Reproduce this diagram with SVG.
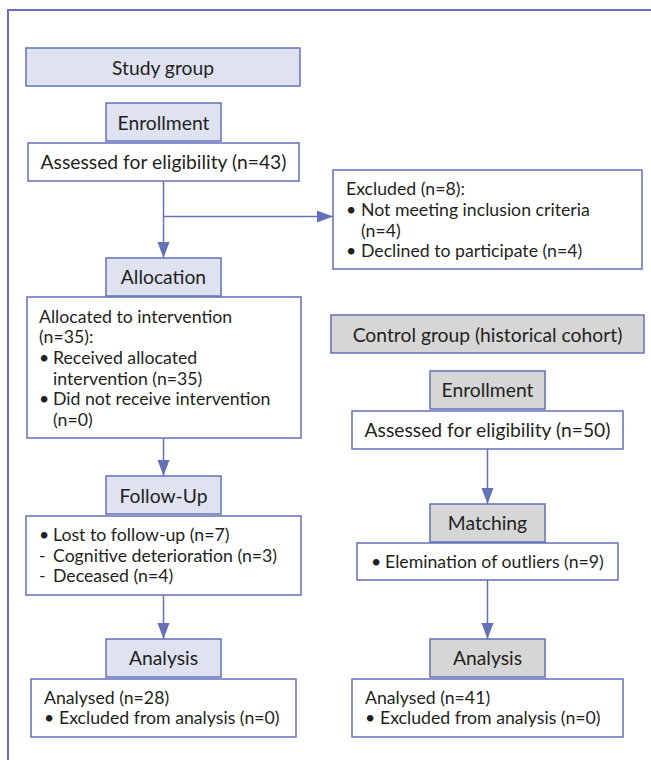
<svg xmlns="http://www.w3.org/2000/svg" width="651" height="760" viewBox="0 0 651 760">
<defs>
<style>
.frame{fill:none;stroke:#6470b8;stroke-width:2}
.hd{fill:#dfe2f1;stroke:#6470b8;stroke-width:1.5}
.hg{fill:#d6d6d6;stroke:#6470b8;stroke-width:1.5}
.bx{fill:#ffffff;stroke:#6470b8;stroke-width:1.5}
.c{stroke:#6470b8;stroke-width:1.5;fill:none}
text{font-family:Lato,"Open Sans","Liberation Sans",sans-serif;font-size:17.7px;fill:#231f20}
.m{text-anchor:middle;font-size:19.3px}
</style>
<marker id="ah" markerUnits="userSpaceOnUse" markerWidth="18" markerHeight="14" refX="16" refY="6" orient="auto">
<path d="M0,0 L16,6 L0,12 Z" fill="#6470b8"/>
</marker>
</defs>
<rect width="651" height="760" fill="#ffffff"/>
<rect class="frame" x="8" y="10" width="660" height="770"/>

<g id="connectors">
<path class="c" d="M163.5,181 V258" marker-end="url(#ah)"/>
<path class="c" d="M163.5,216.5 H333" marker-end="url(#ah)"/>
<path class="c" d="M163.5,438 V476" marker-end="url(#ah)"/>
<path class="c" d="M163.5,595 V639" marker-end="url(#ah)"/>
<path class="c" d="M487.5,449 V504" marker-end="url(#ah)"/>
<path class="c" d="M487.5,580 V639" marker-end="url(#ah)"/>
</g>

<g id="study-group"><rect class="hd" x="26" y="48" width="274" height="38"/><text class="m" x="163" y="75">Study group</text></g>
<g id="enrollment-study"><rect class="hd" x="106" y="103" width="115" height="38"/><text class="m" x="163.5" y="129.5">Enrollment</text></g>
<g id="assessed-43"><rect class="bx" x="28" y="143" width="271" height="38"/><text class="m" x="163.5" y="168.5">Assessed for eligibility (n=43)</text></g>
<g id="excluded"><rect class="bx" x="333" y="170" width="309" height="99"/>
<text x="346" y="195">Excluded (n=8):</text>
<text x="346" y="216">•</text><text x="361" y="216">Not meeting inclusion criteria</text>
<text x="361" y="236.5">(n=4)</text>
<text x="346" y="257">•</text><text x="361" y="257">Declined to participate (n=4)</text></g>
<g id="control-group"><rect class="hg" x="331" y="315" width="313" height="38"/><text class="m" x="487.5" y="341.5">Control group (historical cohort)</text></g>
<g id="allocation"><rect class="hd" x="106" y="258" width="115" height="38"/><text class="m" x="163.5" y="284">Allocation</text></g>
<g id="allocated"><rect class="bx" x="27" y="297" width="274" height="141"/>
<text x="39" y="322.5">Allocated to intervention</text>
<text x="39" y="343">(n=35):</text>
<text x="39" y="364">•</text><text x="53" y="364">Received allocated</text>
<text x="53" y="384.5">intervention (n=35)</text>
<text x="39" y="405">•</text><text x="53" y="405">Did not receive intervention</text>
<text x="53" y="425.5">(n=0)</text></g>
<g id="follow-up"><rect class="hd" x="106" y="476" width="115" height="38"/><text class="m" x="163.5" y="503">Follow-Up</text></g>
<g id="lost"><rect class="bx" x="26" y="516" width="275" height="79"/>
<text x="39" y="540.5">•</text><text x="53" y="540.5">Lost to follow-up (n=7)</text>
<text x="39" y="561.5">-</text><text x="53" y="561.5">Cognitive deterioration (n=3)</text>
<text x="39" y="582">-</text><text x="53" y="582">Deceased (n=4)</text></g>
<g id="analysis-study"><rect class="hd" x="106" y="639" width="115" height="38"/><text class="m" x="163.5" y="665">Analysis</text></g>
<g id="analysed-28"><rect class="bx" x="31" y="679" width="265" height="58"/>
<text x="44" y="703.5">Analysed (n=28)</text>
<text x="44" y="724">•</text><text x="59" y="724">Excluded from analysis (n=0)</text></g>
<g id="enrollment-control"><rect class="hg" x="430" y="371" width="115" height="38"/><text class="m" x="487.5" y="397">Enrollment</text></g>
<g id="assessed-50"><rect class="bx" x="352" y="411" width="271" height="38"/><text class="m" x="487.5" y="436.5">Assessed for eligibility (n=50)</text></g>
<g id="matching"><rect class="hg" x="430" y="504" width="115" height="38"/><text class="m" x="487.5" y="529.5">Matching</text></g>
<g id="outliers"><rect class="bx" x="357" y="543" width="261" height="37"/>
<text x="371" y="568">•</text><text x="385" y="568">Elemination of outliers (n=9)</text></g>
<g id="analysis-control"><rect class="hg" x="430" y="639" width="115" height="38"/><text class="m" x="487.5" y="664.5">Analysis</text></g>
<g id="analysed-41"><rect class="bx" x="352" y="679" width="271" height="58"/>
<text x="365" y="703.5">Analysed (n=41)</text>
<text x="365" y="724">•</text><text x="380" y="724">Excluded from analysis (n=0)</text></g>
</svg>
